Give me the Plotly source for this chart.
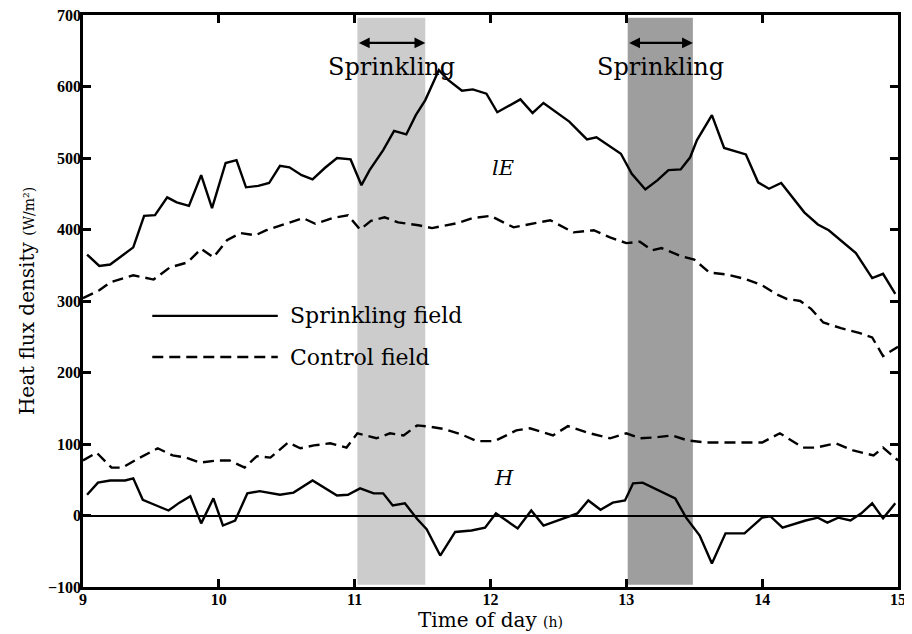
import plotly.graph_objects as go

# ---------------- data ----------------
# Sprinkling field, latent heat flux lE
t_le_s = [9.03, 9.12, 9.2, 9.27, 9.37, 9.45, 9.53, 9.62, 9.69, 9.78, 9.87, 9.95, 10.05, 10.13, 10.2,
          10.29, 10.37, 10.45, 10.52, 10.61, 10.69, 10.78, 10.87, 10.97, 11.05, 11.11, 11.21, 11.29,
          11.38, 11.45, 11.52, 11.62, 11.69, 11.79, 11.87, 11.97, 12.05, 12.22, 12.31, 12.39, 12.58,
          12.71, 12.78, 12.96, 13.04, 13.14, 13.23, 13.31, 13.4, 13.47, 13.52, 13.63, 13.72, 13.88,
          13.97, 14.05, 14.14, 14.31, 14.41, 14.49, 14.69, 14.81, 14.89, 14.98]
le_s = [365, 349, 351, 361, 375, 419, 420, 445, 438, 433, 476, 430, 493, 497, 459,
        461, 465, 489, 487, 476, 470, 486, 500, 498, 462, 483, 511, 538,
        533, 560, 581, 623, 609, 594, 596, 590, 564, 582, 563, 577, 551,
        526, 529, 506, 478, 456, 469, 483, 484, 501, 525, 560, 514, 505,
        466, 457, 465, 424, 407, 399, 367, 332, 338, 310]

# Control field, latent heat flux lE
t_le_c = [9.0, 9.12, 9.2, 9.37, 9.52, 9.64, 9.77, 9.87, 9.96, 10.06, 10.16, 10.27, 10.35, 10.5, 10.62,
          10.71, 10.84, 10.95, 11.04, 11.12, 11.22, 11.32, 11.47, 11.57, 11.76, 11.87, 12.0, 12.17,
          12.44, 12.61, 12.76, 12.88, 13.0, 13.1, 13.19, 13.26, 13.4, 13.5, 13.61, 13.74, 13.87, 14.0,
          14.1, 14.18, 14.28, 14.36, 14.45, 14.58, 14.72, 14.81, 14.89, 15.0]
le_c = [304, 315, 326, 336, 330, 347, 354, 373, 361, 385, 395, 392, 399, 409, 416,
        408, 416, 420, 400, 412, 417, 410, 406, 402, 409, 416, 419, 403,
        413, 396, 399, 389, 381, 383, 371, 374, 363, 358, 340, 337, 331, 322,
        310, 303, 300, 289, 270, 262, 255, 249, 223, 236]

# Control field, sensible heat flux H
t_h_c = [9.0, 9.1, 9.21, 9.29, 9.42, 9.55, 9.66, 9.76, 9.86, 9.99, 10.08, 10.19, 10.28, 10.38, 10.51,
         10.6, 10.7, 10.82, 10.94, 11.02, 11.16, 11.26, 11.36, 11.46, 11.56, 11.66, 11.79, 11.9,
         12.03, 12.19, 12.29, 12.46, 12.57, 12.73, 12.88, 13.0, 13.1, 13.2, 13.34, 13.45, 13.59,
         13.84, 14.0, 14.13, 14.3, 14.4, 14.54, 14.67, 14.82, 14.89, 15.0]
h_c = [77, 88, 67, 67, 81, 94, 84, 81, 74, 77, 77, 67, 83, 81, 102,
       94, 98, 101, 95, 115, 108, 115, 112, 126, 124, 121, 113, 104,
       104, 119, 122, 112, 125, 115, 108, 115, 108, 109, 112, 105, 102,
       102, 102, 115, 95, 95, 101, 91, 84, 95, 77]

# Sprinkling field, sensible heat flux H
t_h_s = [9.03, 9.11, 9.2, 9.31, 9.37, 9.44, 9.54, 9.63, 9.71, 9.79, 9.87, 9.96, 10.03, 10.12, 10.21,
         10.3, 10.45, 10.55, 10.69, 10.87, 10.95, 11.04, 11.14, 11.21, 11.28, 11.37, 11.46, 11.53,
         11.63, 11.74, 11.86, 11.96, 12.04, 12.2, 12.3, 12.39, 12.64, 12.72, 12.81, 12.9, 12.99,
         13.05, 13.12, 13.36, 13.44, 13.54, 13.63, 13.73, 13.87, 14.0, 14.06, 14.15, 14.32, 14.41,
         14.48, 14.56, 14.65, 14.73, 14.81, 14.89, 14.98]
h_s = [29, 46, 49, 49, 52, 22, 14, 7, 18, 27, -11, 24, -14, -7, 31,
       34, 29, 32, 49, 28, 29, 38, 31, 31, 14, 17, -5, -19,
       -56, -23, -21, -17, 3, -18, 7, -14, 3, 21, 8, 18, 21,
       45, 46, 24, -3, -28, -67, -25, -25, -3, -1, -17, -7, -3,
       -10, -3, -7, 3, 17, -4, 17]

sprinkle_periods = [(11.02, 11.52), (13.01, 13.49)]
sprinkle_shades = ["rgba(0,0,0,0.2)", "rgba(0,0,0,0.38)"]
x_ticks = [9, 10, 11, 12, 13, 14, 15]
y_ticks = [-100, 0, 100, 200, 300, 400, 500, 600, 700]

SERIF = "DejaVu Serif"
LINE_W = 2.4
DASH = "11px,6px"

fig = go.Figure()
fig.add_trace(go.Scatter(x=t_le_s, y=le_s, mode="lines", name="Sprinkling field",
                         line=dict(color="black", width=LINE_W)))
fig.add_trace(go.Scatter(x=t_le_c, y=le_c, mode="lines", name="Control field",
                         line=dict(color="black", width=LINE_W, dash=DASH)))
fig.add_trace(go.Scatter(x=t_h_s, y=h_s, mode="lines", name="Sprinkling field H",
                         line=dict(color="black", width=LINE_W)))
fig.add_trace(go.Scatter(x=t_h_c, y=h_c, mode="lines", name="Control field H",
                         line=dict(color="black", width=LINE_W, dash=DASH)))

shapes = []
annotations = []
for (a, b), shade in zip(sprinkle_periods, sprinkle_shades):
    shapes.append(dict(type="rect", xref="x", yref="y", x0=a, x1=b, y0=-97, y1=696,
                       fillcolor=shade, line=dict(width=0), layer="below"))
    annotations.append(dict(x=b, y=661, ax=a, ay=661, xref="x", yref="y",
                            axref="x", ayref="y", text="", showarrow=True,
                            arrowhead=2, arrowside="end+start", arrowwidth=2.4,
                            arrowsize=0.9, arrowcolor="black"))
    annotations.append(dict(x=(a + b) / 2, y=627, xref="x", yref="y",
                            text="Sprinkling", showarrow=False,
                            font=dict(family=SERIF, size=24, color="black")))

# curve labels
annotations.append(dict(x=12.09, y=486, xref="x", yref="y", text="<i>lE</i>", showarrow=False,
                        font=dict(family=SERIF, size=21, color="black")))
annotations.append(dict(x=12.1, y=53, xref="x", yref="y", text="<i>H</i>", showarrow=False,
                        font=dict(family=SERIF, size=21, color="black")))

# legend (drawn manually, long line samples as in the original)
leg_items = [("Sprinkling field", "solid", 0.474), ("Control field", DASH, 0.402)]
for label, dash, yp in leg_items:
    shapes.append(dict(type="line", xref="paper", yref="paper", x0=0.085, x1=0.239, y0=yp, y1=yp,
                       line=dict(color="black", width=LINE_W, dash=dash)))
    annotations.append(dict(x=0.252, y=yp, xref="paper", yref="paper", xanchor="left",
                            yanchor="middle", text=label, showarrow=False,
                            font=dict(family=SERIF, size=22, color="black")))

axis_common = dict(showline=True, linecolor="black", linewidth=2.5, mirror="ticks",
                   ticks="inside", tickcolor="black", tickwidth=2.5, ticklen=8,
                   showgrid=False, automargin=False, ticklabeloverflow="allow",
                   ticklabelstandoff=-4,
                   tickfont=dict(family="Liberation Serif", size=16, color="black", weight="bold"))

# the page body adds an 8px margin, so the figure is sized to fit the 912x634 window
fig.update_layout(
    width=904, height=626,
    margin=dict(l=75, r=14, t=7, b=47),
    paper_bgcolor="white", plot_bgcolor="white",
    showlegend=False,
    shapes=shapes, annotations=annotations,
    xaxis=dict(range=[9, 15], tickvals=x_ticks, zeroline=False,
               title=dict(text="Time of day <span style='font-size:14px'>(h)</span>",
                          font=dict(family=SERIF, size=20, color="black"), standoff=3),
               **axis_common),
    yaxis=dict(range=[-100, 700], tickvals=y_ticks, zeroline=True, zerolinecolor="black",
               zerolinewidth=1.6,
               title=dict(text="Heat flux density <span style='font-size:14px'>(W/m²)</span>",
                          font=dict(family=SERIF, size=20, color="black"), standoff=8),
               **axis_common),
)

fig.write_html("out.html")
